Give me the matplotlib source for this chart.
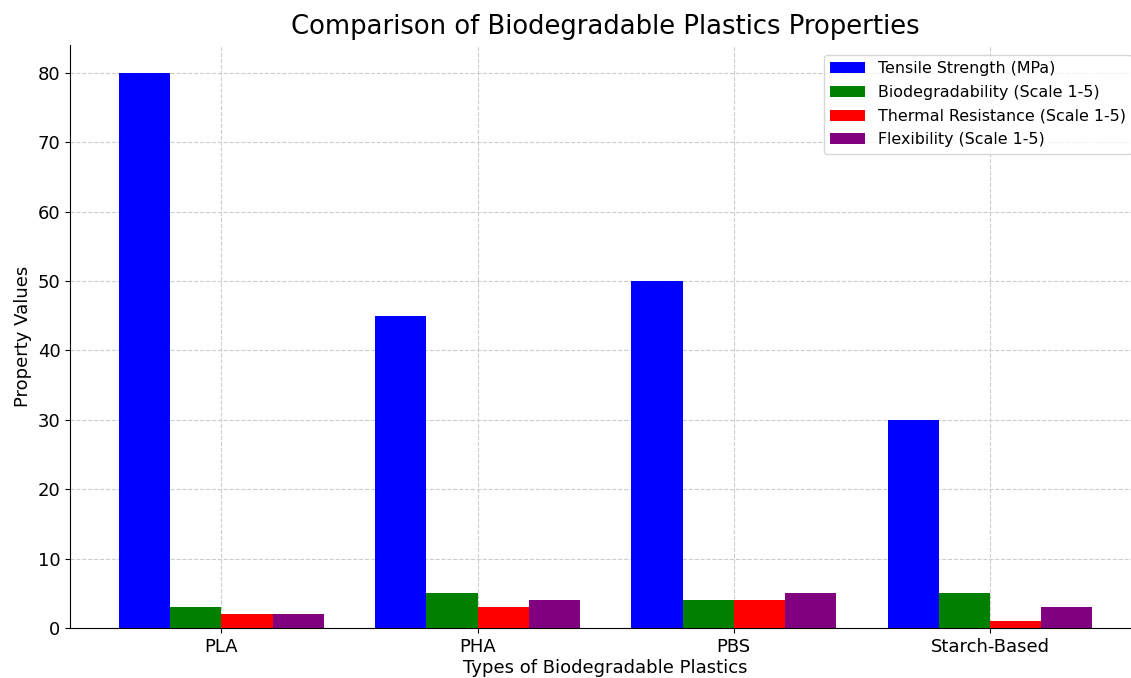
import numpy as np
import matplotlib.pyplot as plt

plastics = ['PLA', 'PHA', 'PBS', 'Starch-Based']
tensile = [80, 45, 50, 30]
biodeg = [3, 5, 4, 5]
thermal = [2, 3, 4, 1]
flex = [2, 4, 5, 3]

series = [
    (tensile, 'Tensile Strength (MPa)', 'blue'),
    (biodeg, 'Biodegradability (Scale 1-5)', 'green'),
    (thermal, 'Thermal Resistance (Scale 1-5)', 'red'),
    (flex, 'Flexibility (Scale 1-5)', 'purple'),
]

fig = plt.figure(figsize=(11.31, 6.78), dpi=100)
ax = fig.add_axes([0.062, 0.0737, 0.947, 0.86])

x = np.arange(len(plastics))
w = 0.2
for i, (vals, lab, col) in enumerate(series):
    ax.bar(x + (i - 1.5) * w, vals, w, label=lab, color=col)

ax.set_xticks(x)
ax.set_xticklabels(plastics, fontsize=13)
ax.tick_params(axis='y', labelsize=13)
ax.set_xlabel('Types of Biodegradable Plastics', fontsize=13, labelpad=2)
ax.set_ylabel('Property Values', fontsize=13)
ax.set_title('Comparison of Biodegradable Plastics Properties', fontsize=18.6, pad=8)
ax.grid(True, linestyle='--', color='#cccccc', linewidth=0.8)
ax.set_axisbelow(True)
ax.spines['top'].set_visible(False)
ax.spines['right'].set_visible(False)
ax.legend(loc='upper left', bbox_to_anchor=(824 / 1131, 1 - 55 / 678),
          bbox_transform=fig.transFigure, fontsize=11.4, labelspacing=0.55,
          handlelength=2.2, borderaxespad=0)

fig.savefig('out.png', dpi=100)
